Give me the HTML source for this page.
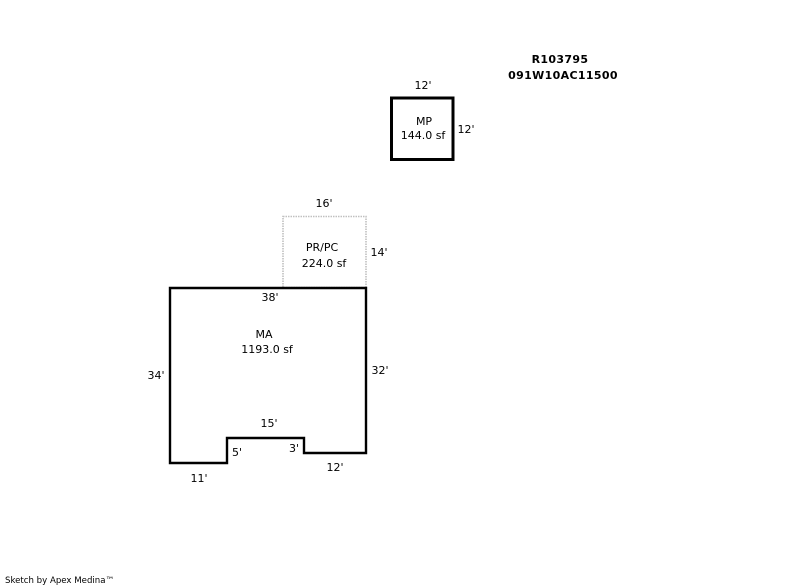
<!DOCTYPE html>
<html>
<head>
<meta charset="utf-8">
<style>
html,body{margin:0;padding:0;background:#fff;width:800px;height:587px;overflow:hidden}
svg{display:block}
text{font-family:"DejaVu Sans","Liberation Sans",sans-serif;font-size:11px;fill:#000}
.b{font-weight:bold;font-size:11px;letter-spacing:.35px}
</style>
</head>
<body>
<svg width="800" height="587" viewBox="0 0 800 587" xmlns="http://www.w3.org/2000/svg">
<rect x="283" y="216.5" width="83" height="71" fill="none" stroke="#c0c0c0" stroke-width="1.6" stroke-dasharray="1.5 1"/>
<path d="M170 288H366V453H304V438H227V463H170Z" fill="none" stroke="#000" stroke-width="2.4"/>
<rect x="391.5" y="98" width="61.5" height="61.5" fill="none" stroke="#000" stroke-width="3"/>

<text class="b" x="560" y="63" text-anchor="middle">R103795</text>
<text class="b" x="563" y="79" text-anchor="middle">091W10AC11500</text>

<text x="423" y="89" text-anchor="middle">12'</text>
<text x="466" y="133" text-anchor="middle">12'</text>
<text x="424" y="125" text-anchor="middle">MP</text>
<text x="423" y="139" text-anchor="middle">144.0 sf</text>

<text x="324" y="207" text-anchor="middle">16'</text>
<text x="379" y="256" text-anchor="middle">14'</text>
<text x="322" y="251" text-anchor="middle">PR/PC</text>
<text x="324" y="267" text-anchor="middle">224.0 sf</text>

<text x="270" y="301" text-anchor="middle">38'</text>
<text x="264" y="338" text-anchor="middle">MA</text>
<text x="267" y="353" text-anchor="middle">1193.0 sf</text>
<text x="156" y="379" text-anchor="middle">34'</text>
<text x="380" y="374" text-anchor="middle">32'</text>
<text x="269" y="427" text-anchor="middle">15'</text>
<text x="237" y="456" text-anchor="middle">5'</text>
<text x="294" y="452" text-anchor="middle">3'</text>
<text x="335" y="471" text-anchor="middle">12'</text>
<text x="199" y="482" text-anchor="middle">11'</text>

<text x="5" y="583" style="font-size:8.6px">Sketch by Apex Medina™</text>
</svg>
</body>
</html>
